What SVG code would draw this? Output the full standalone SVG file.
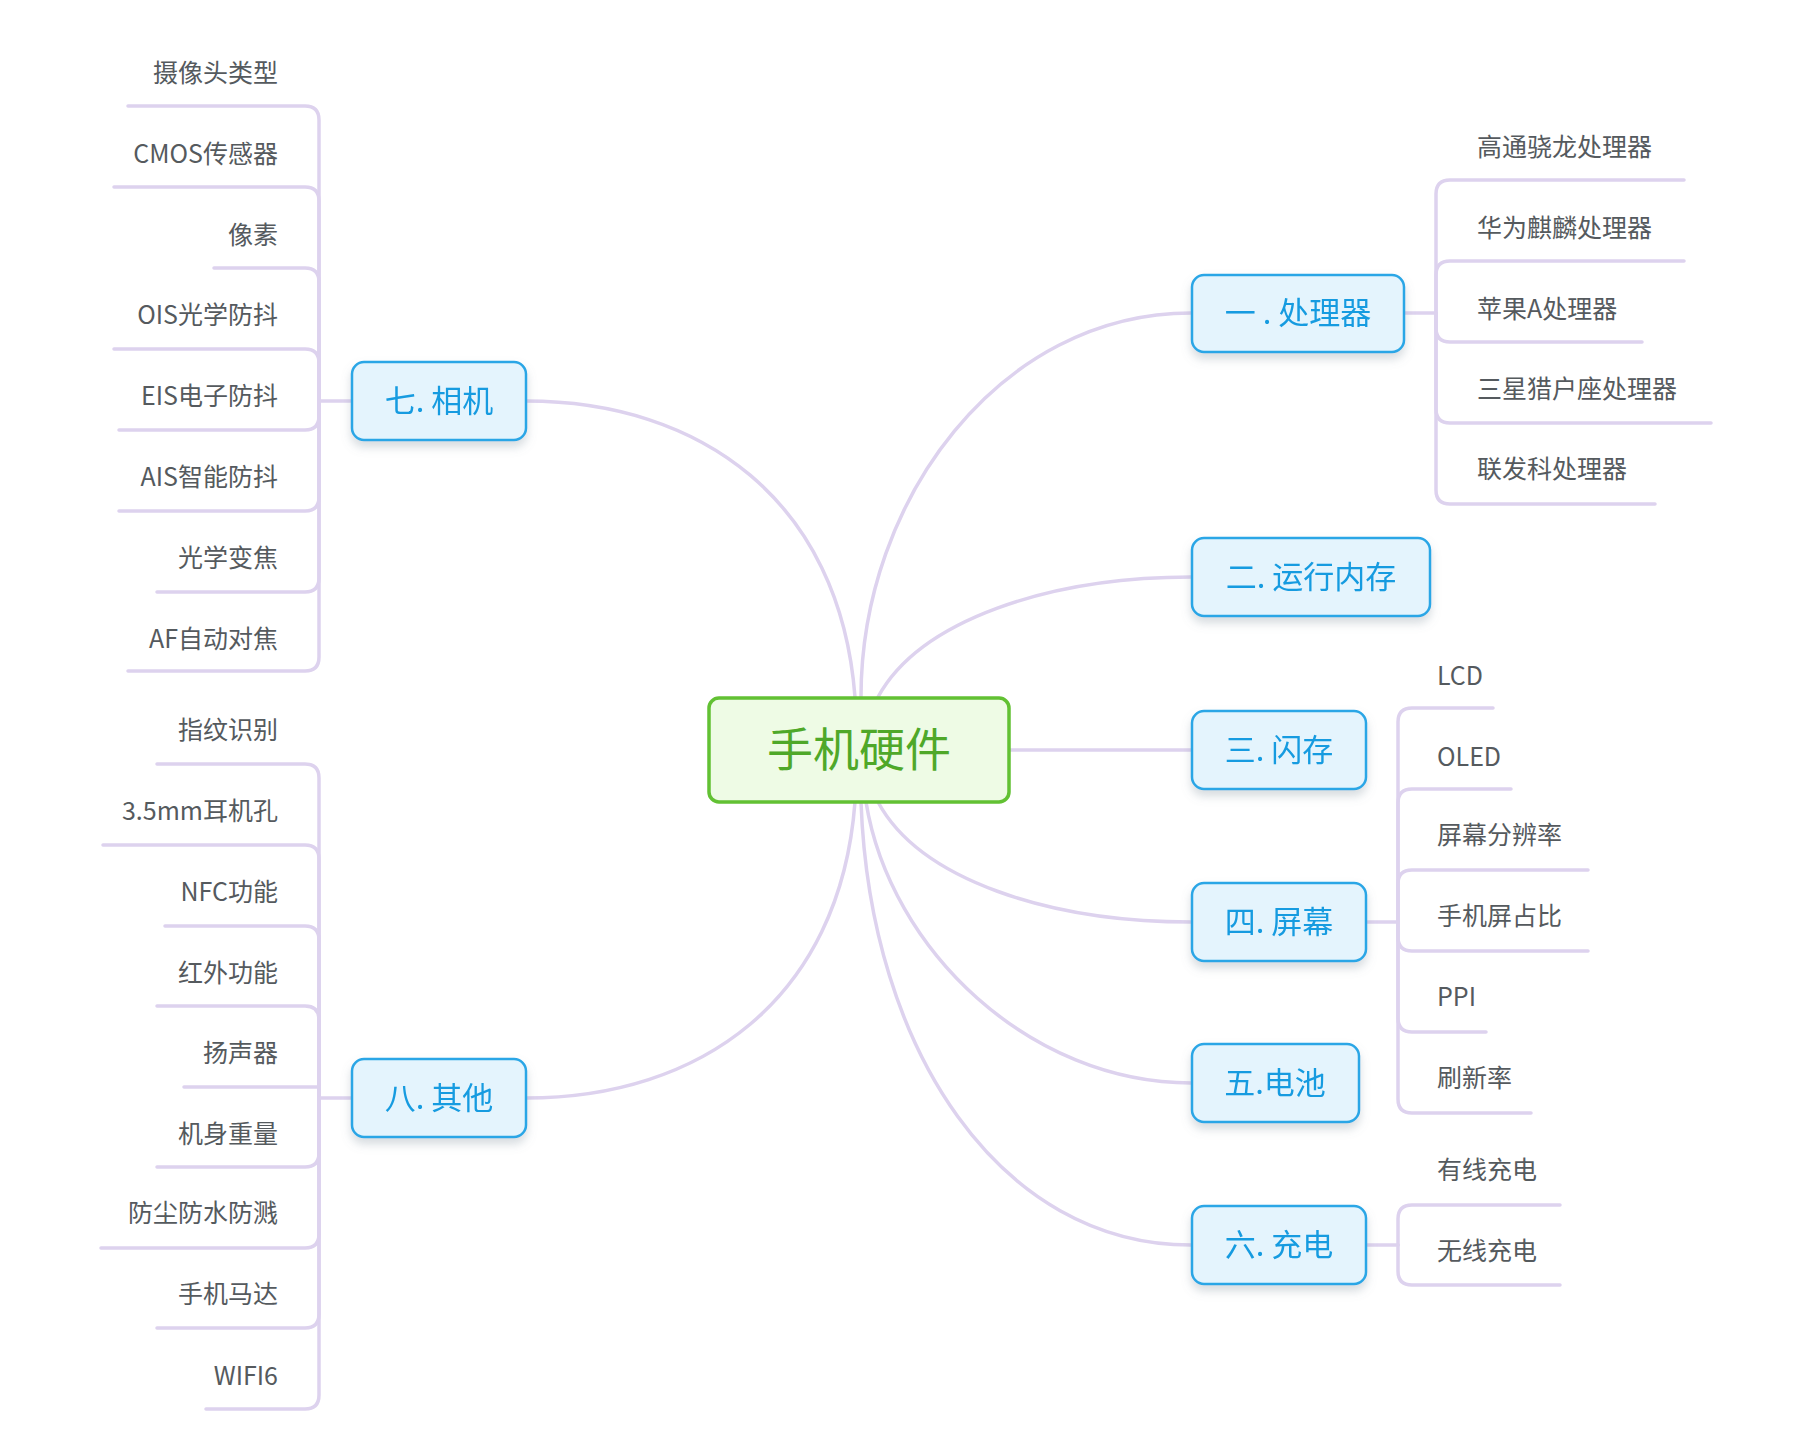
<svg xmlns="http://www.w3.org/2000/svg" width="1798" height="1455" viewBox="0 0 1798 1455">
<defs>
<style>
.ln{fill:none;stroke:#ddd2ee;stroke-width:3.5;stroke-linecap:round}
.nb{fill:#e4f4fd;stroke:#2aa6e6;stroke-width:2.5}
.nt{font-family:"Noto Sans CJK SC","Noto Sans",sans-serif;font-size:31px;fill:#169be0;text-anchor:middle}
.lt{font-family:"Noto Sans CJK SC","Noto Sans",sans-serif;font-size:25px;fill:#555a5e}
.r{text-anchor:end}
</style>
<filter id="sh" x="-20%" y="-20%" width="140%" height="160%"><feDropShadow dx="0" dy="6" stdDeviation="5" flood-color="#7a8a99" flood-opacity="0.3"/></filter>
</defs>
<rect width="1798" height="1455" fill="#fff"/>
<g id="connectors">
<path class="ln" d="M861,697 C861,500 1000,313 1191,313"/>
<path class="ln" d="M878,697 C920,620 1050,577 1191,577"/>
<path class="ln" d="M1009,750 L1191,750"/>
<path class="ln" d="M878,802 C920,880 1050,922 1191,922"/>
<path class="ln" d="M866,802 C890,950 1030,1083 1191,1083"/>
<path class="ln" d="M861,802 C870,1050 1000,1245 1191,1245"/>
<path class="ln" d="M855,697 C840,500 700,401 526,401"/>
<path class="ln" d="M855,802 C840,1000 700,1098 526,1098"/>
<!-- 一 -->
<path class="ln" d="M1404,313 L1436,313"/>
<path class="ln" d="M1436,313 L1436,194 Q1436,180 1450,180 L1684,180"/>
<path class="ln" d="M1436,313 L1436,275 Q1436,261 1450,261 L1684,261"/>
<path class="ln" d="M1436,313 L1436,328 Q1436,342 1450,342 L1642,342"/>
<path class="ln" d="M1436,313 L1436,409 Q1436,423 1450,423 L1711,423"/>
<path class="ln" d="M1436,313 L1436,490 Q1436,504 1450,504 L1655,504"/>
<!-- 四 -->
<path class="ln" d="M1366,922 L1398,922"/>
<path class="ln" d="M1398,922 L1398,722 Q1398,708 1412,708 L1493,708"/>
<path class="ln" d="M1398,922 L1398,803 Q1398,789 1412,789 L1511,789"/>
<path class="ln" d="M1398,922 L1398,884 Q1398,870 1412,870 L1588,870"/>
<path class="ln" d="M1398,922 L1398,937 Q1398,951 1412,951 L1588,951"/>
<path class="ln" d="M1398,922 L1398,1018 Q1398,1032 1412,1032 L1486,1032"/>
<path class="ln" d="M1398,922 L1398,1099 Q1398,1113 1412,1113 L1531,1113"/>
<!-- 六 -->
<path class="ln" d="M1366,1245 L1398,1245"/>
<path class="ln" d="M1398,1245 L1398,1219 Q1398,1205 1412,1205 L1560,1205"/>
<path class="ln" d="M1398,1245 L1398,1271 Q1398,1285 1412,1285 L1560,1285"/>
<!-- 七 -->
<path class="ln" d="M351,401 L319,401"/>
<path class="ln" d="M319,401 L319,120 Q319,106 305,106 L128,106"/>
<path class="ln" d="M319,401 L319,201 Q319,187 305,187 L114,187"/>
<path class="ln" d="M319,401 L319,282 Q319,268 305,268 L214,268"/>
<path class="ln" d="M319,401 L319,363 Q319,349 305,349 L114,349"/>
<path class="ln" d="M319,401 L319,416 Q319,430 305,430 L119,430"/>
<path class="ln" d="M319,401 L319,497 Q319,511 305,511 L119,511"/>
<path class="ln" d="M319,401 L319,578 Q319,592 305,592 L157,592"/>
<path class="ln" d="M319,401 L319,657 Q319,671 305,671 L128,671"/>
<!-- 八 -->
<path class="ln" d="M351,1098 L319,1098"/>
<path class="ln" d="M319,1098 L319,778 Q319,764 305,764 L157,764"/>
<path class="ln" d="M319,1098 L319,859 Q319,845 305,845 L103,845"/>
<path class="ln" d="M319,1098 L319,940 Q319,926 305,926 L165,926"/>
<path class="ln" d="M319,1098 L319,1020 Q319,1006 305,1006 L157,1006"/>
<path class="ln" d="M319,1098 L319,1087 L184,1087"/>
<path class="ln" d="M319,1098 L319,1153 Q319,1167 305,1167 L157,1167"/>
<path class="ln" d="M319,1098 L319,1234 Q319,1248 305,1248 L101,1248"/>
<path class="ln" d="M319,1098 L319,1314 Q319,1328 305,1328 L157,1328"/>
<path class="ln" d="M319,1098 L319,1395 Q319,1409 305,1409 L206,1409"/>
</g>
<g id="root"><rect x="709" y="698" width="300" height="104" rx="10" fill="#eefbe5" stroke="#62c133" stroke-width="3.5"/><text x="859" y="766" font-family="'Noto Sans CJK SC',sans-serif" font-size="46" fill="#4fa829" text-anchor="middle">手机硬件</text></g>
<g id="n1" filter="url(#sh)"><rect class="nb" x="1192" y="275" width="212" height="77" rx="12"/><text class="nt" x="1298" y="324">一 . 处理器</text></g>
<g id="n2" filter="url(#sh)"><rect class="nb" x="1192" y="538" width="238" height="78" rx="12"/><text class="nt" x="1311" y="588">二. 运行内存</text></g>
<g id="n3" filter="url(#sh)"><rect class="nb" x="1192" y="711" width="174" height="78" rx="12"/><text class="nt" x="1279" y="761">三. 闪存</text></g>
<g id="n4" filter="url(#sh)"><rect class="nb" x="1192" y="883" width="174" height="78" rx="12"/><text class="nt" x="1279" y="933">四. 屏幕</text></g>
<g id="n5" filter="url(#sh)"><rect class="nb" x="1192" y="1044" width="167" height="78" rx="12"/><text class="nt" x="1275" y="1094">五.电池</text></g>
<g id="n6" filter="url(#sh)"><rect class="nb" x="1192" y="1206" width="174" height="78" rx="12"/><text class="nt" x="1279" y="1256">六. 充电</text></g>
<g id="n7" filter="url(#sh)"><rect class="nb" x="352" y="362" width="174" height="78" rx="12"/><text class="nt" x="439" y="412">七. 相机</text></g>
<g id="n8" filter="url(#sh)"><rect class="nb" x="352" y="1059" width="174" height="78" rx="12"/><text class="nt" x="439" y="1109">八. 其他</text></g>
<g id="leaves1">
<text class="lt" x="1477" y="156">高通骁龙处理器</text>
<text class="lt" x="1477" y="237">华为麒麟处理器</text>
<text class="lt" x="1477" y="318">苹果A处理器</text>
<text class="lt" x="1477" y="398">三星猎户座处理器</text>
<text class="lt" x="1477" y="478">联发科处理器</text>
</g>
<g id="leaves4">
<text class="lt" x="1437" y="685">LCD</text>
<text class="lt" x="1437" y="766">OLED</text>
<text class="lt" x="1437" y="844">屏幕分辨率</text>
<text class="lt" x="1437" y="925">手机屏占比</text>
<text class="lt" x="1437" y="1006">PPI</text>
<text class="lt" x="1437" y="1087">刷新率</text>
</g>
<g id="leaves6">
<text class="lt" x="1437" y="1179">有线充电</text>
<text class="lt" x="1437" y="1260">无线充电</text>
</g>
<g id="leaves7">
<text class="lt r" x="278" y="82">摄像头类型</text>
<text class="lt r" x="278" y="163">CMOS传感器</text>
<text class="lt r" x="278" y="244">像素</text>
<text class="lt r" x="278" y="324">OIS光学防抖</text>
<text class="lt r" x="278" y="405">EIS电子防抖</text>
<text class="lt r" x="278" y="486">AIS智能防抖</text>
<text class="lt r" x="278" y="567">光学变焦</text>
<text class="lt r" x="278" y="648">AF自动对焦</text>
</g>
<g id="leaves8">
<text class="lt r" x="278" y="739">指纹识别</text>
<text class="lt r" x="278" y="820">3.5mm耳机孔</text>
<text class="lt r" x="278" y="901">NFC功能</text>
<text class="lt r" x="278" y="982">红外功能</text>
<text class="lt r" x="278" y="1062">扬声器</text>
<text class="lt r" x="278" y="1143">机身重量</text>
<text class="lt r" x="278" y="1222">防尘防水防溅</text>
<text class="lt r" x="278" y="1303">手机马达</text>
<text class="lt r" x="278" y="1385">WIFI6</text>
</g>
</svg>
